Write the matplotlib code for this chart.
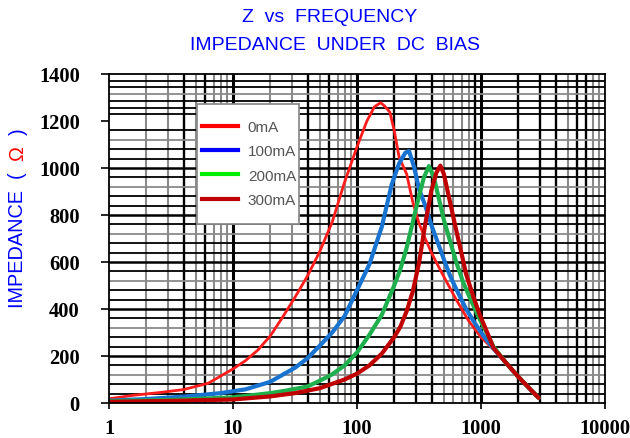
import numpy as np
import matplotlib
matplotlib.use("Agg")
import matplotlib.pyplot as plt
from matplotlib.lines import Line2D
from matplotlib.patches import Rectangle

# ---------------- data ----------------
series_labels = ["0mA", "100mA", "200mA", "300mA"]

f_0mA = [1, 1.585, 2.512, 3.981, 6.31, 10, 12.59, 15.85, 19.95, 25.12, 31.62, 39.81,
         50.12, 63.1, 79.43, 100, 120.2, 138, 154.9, 166, 184, 199.5, 218.8, 251.2,
         281.8, 316.2, 354.8, 398.1, 446.7, 501.2, 631, 794.3, 1000, 1259, 1585,
         1995, 2512, 2917]
z_0mA = [18, 33, 44, 57, 84, 145, 180, 225, 285, 365, 450, 540,
         645, 770, 940, 1090, 1200, 1260, 1278, 1265, 1238, 1160, 1045, 975,
         855, 765, 700, 640, 588, 538, 440, 350, 280, 228, 172,
         112, 57, 22]

f_100mA = [1, 1.995, 3.981, 7.943, 12.59, 19.95, 31.62, 39.81, 50.12, 63.1, 79.43,
           100, 125.9, 158.5, 190.5, 218.8, 245.5, 263, 288.4, 316.2, 354.8, 398.1,
           446.7, 501.2, 562.3, 631, 758.6, 891.3, 1047, 1259, 1585, 1995, 2512, 2917]
z_100mA = [10, 17, 27, 42, 58, 90, 150, 190, 244, 300, 370,
           480, 590, 750, 930, 1020, 1065, 1072, 1005, 911, 840, 757,
           685, 612, 542, 485, 400, 340, 286, 232, 172, 112, 57, 22]

f_200mA = [1, 3.162, 10, 19.95, 26.3, 31.62, 39.81, 50.12, 63.1, 79.43, 100, 125.9,
           158.5, 199.5, 223.9, 251.2, 281.8, 316.2, 346.7, 380.2, 416.9, 457.1,
           501.2, 562.3, 631, 717.8, 794.3, 977.2, 1122, 1259, 1585, 1995, 2512, 2917]
z_200mA = [8, 13, 24, 42, 52, 60, 70, 95, 122, 160, 215, 290,
           375, 500, 570, 660, 770, 880, 960, 1008, 960, 870,
           780, 690, 600, 514, 460, 355, 295, 240, 172, 112, 57, 22]

f_300mA = [1, 3.162, 10, 19.95, 31.62, 50.12, 79.43, 100, 125.9, 158.5, 199.5, 223.9,
           251.2, 281.8, 316.2, 354.8, 398.1, 436.5, 469.9, 501.2, 549.5, 631,
           707.9, 758.6, 871, 977.2, 1122, 1259, 1585, 1995, 2512, 2917]
z_300mA = [5, 9, 15, 28, 42, 63, 100, 125, 160, 210, 280, 325,
           390, 475, 595, 760, 905, 980, 1010, 975, 880, 735,
           620, 548, 450, 375, 300, 235, 172, 112, 57, 22]

x_ticks = [1, 10, 100, 1000, 10000]
x_ticklabels = ["1", "10", "100", "1000", "10000"]
y_ticks = [0, 200, 400, 600, 800, 1000, 1200, 1400]
y_ticklabels = ["0", "200", "400", "600", "800", "1000", "1200", "1400"]

# ---------------- style ----------------
W, H = 630, 439
fig = plt.figure(figsize=(W / 100, H / 100), dpi=100)
L, R, T, B = 109, 605, 75, 404
ax = fig.add_axes([L / W, 1 - B / H, (R - L) / W, (B - T) / H])
ax.set_xscale("log")
ax.set_xlim(1, 10000)
ax.set_ylim(0, 1400)

# grid (scanned-chart look: mix of black and grey lines)
GREY = "#8a8a8a"
dec_patterns = [
    "ggkgkggg",   # 1..10  (2..9)
    "ggkgkggg",   # 10..100
    "kkkggggk",   # 100..1000
    "kkkgkkgg",   # 1000..10000
]
for d, pat in enumerate(dec_patterns):
    base = 10 ** d
    for m, c in zip(range(2, 10), pat):
        if c == "k":
            ax.axvline(base * m, color="black", lw=1.7, zorder=1)
        else:
            ax.axvline(base * m, color=GREY, lw=1.5, zorder=1)
for d in range(1, 4):
    ax.axvline(10 ** d, color="black", lw=2.2, zorder=1)

h_lines = list(np.arange(40, 1200, 40)) + [1200 + k * 200 / 7 for k in range(1, 7)]
hcols = ["black", "black", GREY, "black", "black"]
for i, yv in enumerate(h_lines):
    if yv % 200 == 0:
        ax.axhline(yv, color="black", lw=1.8, zorder=1)
    else:
        ax.axhline(yv, color=hcols[i % len(hcols)], lw=1.3, zorder=1)

# curves
curve_colors = ["#ff1c1c", "#1874d0", "#1fb04e", "#c00000"]
curve_lw = [2.0, 3.0, 3.0, 3.0]
for f, z, c, lw in zip([f_0mA, f_100mA, f_200mA, f_300mA],
                       [z_0mA, z_100mA, z_200mA, z_300mA],
                       curve_colors, curve_lw):
    ax.plot(f, z, color=c, lw=lw, zorder=3, solid_capstyle="round",
            solid_joinstyle="round")

# spines / ticks
for s in ax.spines.values():
    s.set_color("black")
    s.set_linewidth(1.3)
    s.set_zorder(6)
ax.set_xticks(x_ticks)
ax.set_xticklabels(x_ticklabels)
ax.set_yticks(y_ticks)
ax.set_yticklabels(y_ticklabels)
ax.xaxis.set_minor_locator(matplotlib.ticker.NullLocator())
tickfont = dict(family="Liberation Serif", weight="bold", size=14.8)
for lab in ax.get_xticklabels() + ax.get_yticklabels():
    lab.set_fontproperties(matplotlib.font_manager.FontProperties(**tickfont))
ax.tick_params(axis="y", direction="out", length=6, width=1.2, pad=15, colors="black")
ax.tick_params(axis="x", direction="out", length=4, width=1.2, pad=7, colors="black")

# legend box (drawn manually) and legend entries
lx0, lx1, ly0, ly1 = 197, 299, 105, 225
ax.add_patch(Rectangle(((lx0 - L) / (R - L), (B - ly1) / (B - T)),
                       (lx1 - lx0) / (R - L), (ly1 - ly0) / (B - T),
                       transform=ax.transAxes, facecolor="white",
                       edgecolor="#8c8c8c", lw=1.3, zorder=7))
legend_colors = ["#ff0000", "#0000ff", "#00ee00", "#c00000"]
handles = [Line2D([0], [0], color=c, lw=3) for c in legend_colors]
leg = ax.legend(handles, series_labels, loc="upper left",
                bbox_to_anchor=((202 - L) / (R - L), (B - 121) / (B - T)),
                frameon=False, borderpad=0, borderaxespad=0,
                handlelength=2.35, handletextpad=0.65, labelspacing=0.68,
                prop=dict(family="Liberation Sans", size=11))
leg.set_zorder(8)
for t in leg.get_texts():
    t.set_color("#555555")

# title
title_font = dict(family="Liberation Sans", size=14, color="blue")
fig.text(330 / W, 1 - 18 / H, "Z  vs  FREQUENCY", ha="center", va="center", **title_font)
fig.text(335 / W, 1 - 45 / H, "IMPEDANCE  UNDER  DC  BIAS", ha="center", va="center", **title_font)

# y label: IMPEDANCE ( Ω ) with red Ω
renderer = fig.canvas.get_renderer()
xl = 18 / W
y0 = 1 - 308 / H
parts = [("IMPEDANCE  (", "blue"), ("  Ω  ", "red"), (")", "blue")]
for txt, col in parts:
    t = fig.text(xl, y0, txt, rotation=90, ha="center", va="bottom",
                 color=col, family=["Liberation Sans", "DejaVu Sans"], size=14.3)
    bb = t.get_window_extent(renderer)
    y0 += bb.height / H

fig.savefig("out.png", dpi=100, facecolor="white")
